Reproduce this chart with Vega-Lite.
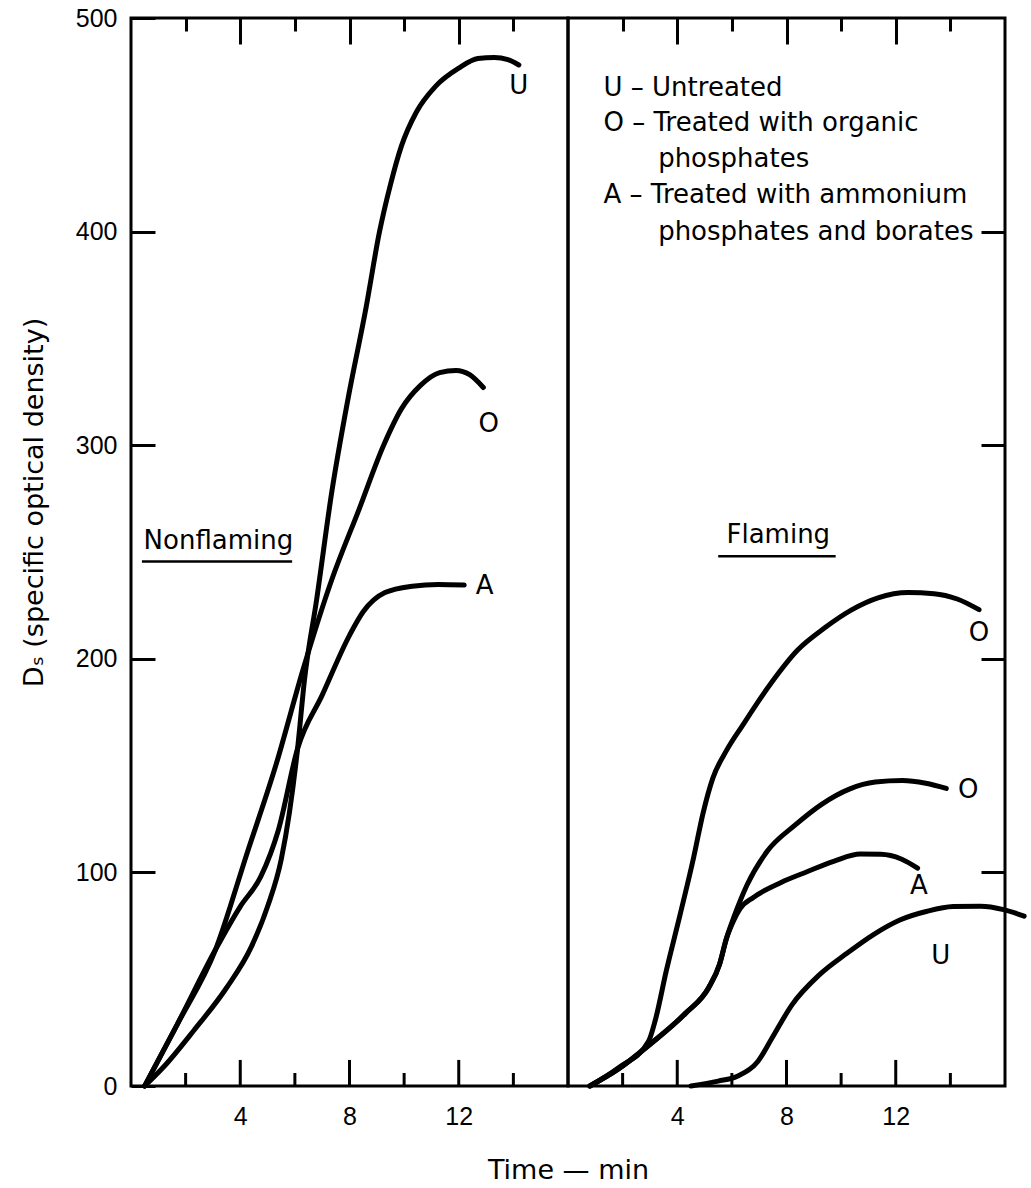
{
  "$schema": "https://vega.github.io/schema/vega-lite/v6.json",
  "padding": {"left": 18, "top": 4, "right": 5, "bottom": 5},
  "background": "white",
  "bounds": "flush",
  "spacing": 0,
  "config": {
    "view": {"stroke": "black", "strokeWidth": 3},
    "axis": {"domain": false, "grid": false, "tickColor": "black", "tickWidth": 3, "labelColor": "black", "labelFont": "Liberation Sans", "labelFontSize": 25, "labelFlush": false, "titleFont": "DejaVu Sans", "titleFontSize": 27, "titleFontWeight": "normal", "titleColor": "black"},
    "concat": {"spacing": 0}
  },
  "datasets": {
    "curves": [
      {"panel": "Nonflaming", "series": "U", "t": 0.5, "v": 0},
      {"panel": "Nonflaming", "series": "U", "t": 1.2, "v": 9},
      {"panel": "Nonflaming", "series": "U", "t": 2.3, "v": 26},
      {"panel": "Nonflaming", "series": "U", "t": 3.5, "v": 46},
      {"panel": "Nonflaming", "series": "U", "t": 4.4, "v": 65},
      {"panel": "Nonflaming", "series": "U", "t": 5.0, "v": 84},
      {"panel": "Nonflaming", "series": "U", "t": 5.5, "v": 106},
      {"panel": "Nonflaming", "series": "U", "t": 5.8, "v": 128},
      {"panel": "Nonflaming", "series": "U", "t": 6.1, "v": 158},
      {"panel": "Nonflaming", "series": "U", "t": 6.35, "v": 190},
      {"panel": "Nonflaming", "series": "U", "t": 6.8, "v": 228},
      {"panel": "Nonflaming", "series": "U", "t": 7.35, "v": 278},
      {"panel": "Nonflaming", "series": "U", "t": 7.95, "v": 322},
      {"panel": "Nonflaming", "series": "U", "t": 8.6, "v": 364},
      {"panel": "Nonflaming", "series": "U", "t": 9.1, "v": 400},
      {"panel": "Nonflaming", "series": "U", "t": 9.5, "v": 422},
      {"panel": "Nonflaming", "series": "U", "t": 9.9, "v": 440},
      {"panel": "Nonflaming", "series": "U", "t": 10.45, "v": 456},
      {"panel": "Nonflaming", "series": "U", "t": 11.15, "v": 468},
      {"panel": "Nonflaming", "series": "U", "t": 12.0, "v": 476.5},
      {"panel": "Nonflaming", "series": "U", "t": 12.7, "v": 481},
      {"panel": "Nonflaming", "series": "U", "t": 13.3, "v": 481.5},
      {"panel": "Nonflaming", "series": "U", "t": 13.8, "v": 480.5},
      {"panel": "Nonflaming", "series": "U", "t": 14.2, "v": 478},
      {"panel": "Nonflaming", "series": "O", "t": 0.5, "v": 0},
      {"panel": "Nonflaming", "series": "O", "t": 1.7, "v": 29},
      {"panel": "Nonflaming", "series": "O", "t": 3.1, "v": 64},
      {"panel": "Nonflaming", "series": "O", "t": 4.25, "v": 109},
      {"panel": "Nonflaming", "series": "O", "t": 5.3, "v": 150},
      {"panel": "Nonflaming", "series": "O", "t": 6.3, "v": 195},
      {"panel": "Nonflaming", "series": "O", "t": 7.35, "v": 237},
      {"panel": "Nonflaming", "series": "O", "t": 8.35, "v": 270},
      {"panel": "Nonflaming", "series": "O", "t": 9.25, "v": 300},
      {"panel": "Nonflaming", "series": "O", "t": 9.9, "v": 317},
      {"panel": "Nonflaming", "series": "O", "t": 10.6, "v": 328},
      {"panel": "Nonflaming", "series": "O", "t": 11.3, "v": 334},
      {"panel": "Nonflaming", "series": "O", "t": 11.9, "v": 335},
      {"panel": "Nonflaming", "series": "O", "t": 12.4, "v": 333},
      {"panel": "Nonflaming", "series": "O", "t": 12.9, "v": 327},
      {"panel": "Nonflaming", "series": "A", "t": 0.5, "v": 0},
      {"panel": "Nonflaming", "series": "A", "t": 1.7, "v": 29},
      {"panel": "Nonflaming", "series": "A", "t": 3.1, "v": 64},
      {"panel": "Nonflaming", "series": "A", "t": 4.0, "v": 84},
      {"panel": "Nonflaming", "series": "A", "t": 4.75, "v": 98},
      {"panel": "Nonflaming", "series": "A", "t": 5.4, "v": 120},
      {"panel": "Nonflaming", "series": "A", "t": 6.1, "v": 158},
      {"panel": "Nonflaming", "series": "A", "t": 7.0, "v": 183},
      {"panel": "Nonflaming", "series": "A", "t": 8.0, "v": 211},
      {"panel": "Nonflaming", "series": "A", "t": 8.5, "v": 222},
      {"panel": "Nonflaming", "series": "A", "t": 9.3, "v": 231},
      {"panel": "Nonflaming", "series": "A", "t": 10.3, "v": 234},
      {"panel": "Nonflaming", "series": "A", "t": 11.25, "v": 234.8},
      {"panel": "Nonflaming", "series": "A", "t": 12.2, "v": 234.5},
      {"panel": "Flaming", "series": "O1", "t": 0.8, "v": 0},
      {"panel": "Flaming", "series": "O1", "t": 1.85, "v": 8.5},
      {"panel": "Flaming", "series": "O1", "t": 2.95, "v": 21},
      {"panel": "Flaming", "series": "O1", "t": 3.2, "v": 31},
      {"panel": "Flaming", "series": "O1", "t": 3.6, "v": 54},
      {"panel": "Flaming", "series": "O1", "t": 4.1, "v": 80},
      {"panel": "Flaming", "series": "O1", "t": 4.6, "v": 107},
      {"panel": "Flaming", "series": "O1", "t": 4.95, "v": 128},
      {"panel": "Flaming", "series": "O1", "t": 5.3, "v": 144},
      {"panel": "Flaming", "series": "O1", "t": 5.8, "v": 157},
      {"panel": "Flaming", "series": "O1", "t": 6.4, "v": 169},
      {"panel": "Flaming", "series": "O1", "t": 7.4, "v": 188},
      {"panel": "Flaming", "series": "O1", "t": 8.4, "v": 204},
      {"panel": "Flaming", "series": "O1", "t": 9.4, "v": 214.5},
      {"panel": "Flaming", "series": "O1", "t": 10.4, "v": 223},
      {"panel": "Flaming", "series": "O1", "t": 11.35, "v": 228.5},
      {"panel": "Flaming", "series": "O1", "t": 12.45, "v": 231},
      {"panel": "Flaming", "series": "O1", "t": 13.4, "v": 230.5},
      {"panel": "Flaming", "series": "O1", "t": 14.25, "v": 228},
      {"panel": "Flaming", "series": "O1", "t": 15.05, "v": 223},
      {"panel": "Flaming", "series": "O2", "t": 0.8, "v": 0},
      {"panel": "Flaming", "series": "O2", "t": 1.85, "v": 8},
      {"panel": "Flaming", "series": "O2", "t": 3.05, "v": 20},
      {"panel": "Flaming", "series": "O2", "t": 4.3, "v": 34},
      {"panel": "Flaming", "series": "O2", "t": 5.15, "v": 46},
      {"panel": "Flaming", "series": "O2", "t": 5.55, "v": 57},
      {"panel": "Flaming", "series": "O2", "t": 5.8, "v": 69},
      {"panel": "Flaming", "series": "O2", "t": 6.1, "v": 80},
      {"panel": "Flaming", "series": "O2", "t": 6.55, "v": 94},
      {"panel": "Flaming", "series": "O2", "t": 7.3, "v": 110},
      {"panel": "Flaming", "series": "O2", "t": 8.3, "v": 122},
      {"panel": "Flaming", "series": "O2", "t": 9.3, "v": 132},
      {"panel": "Flaming", "series": "O2", "t": 10.3, "v": 139},
      {"panel": "Flaming", "series": "O2", "t": 11.25, "v": 142.3},
      {"panel": "Flaming", "series": "O2", "t": 12.25, "v": 143},
      {"panel": "Flaming", "series": "O2", "t": 13.1, "v": 141.7},
      {"panel": "Flaming", "series": "O2", "t": 13.85, "v": 139.3},
      {"panel": "Flaming", "series": "A", "t": 0.8, "v": 0},
      {"panel": "Flaming", "series": "A", "t": 1.85, "v": 8},
      {"panel": "Flaming", "series": "A", "t": 3.05, "v": 20},
      {"panel": "Flaming", "series": "A", "t": 4.3, "v": 34},
      {"panel": "Flaming", "series": "A", "t": 5.15, "v": 46},
      {"panel": "Flaming", "series": "A", "t": 5.55, "v": 57},
      {"panel": "Flaming", "series": "A", "t": 5.8, "v": 69},
      {"panel": "Flaming", "series": "A", "t": 6.05, "v": 77},
      {"panel": "Flaming", "series": "A", "t": 6.3, "v": 83},
      {"panel": "Flaming", "series": "A", "t": 6.8, "v": 88.4},
      {"panel": "Flaming", "series": "A", "t": 7.8, "v": 95.3},
      {"panel": "Flaming", "series": "A", "t": 8.75, "v": 100.3},
      {"panel": "Flaming", "series": "A", "t": 9.75, "v": 105.3},
      {"panel": "Flaming", "series": "A", "t": 10.7, "v": 108.6},
      {"panel": "Flaming", "series": "A", "t": 11.45, "v": 108.5},
      {"panel": "Flaming", "series": "A", "t": 12.2, "v": 106.3},
      {"panel": "Flaming", "series": "A", "t": 12.8, "v": 102},
      {"panel": "Flaming", "series": "U", "t": 4.5, "v": 0},
      {"panel": "Flaming", "series": "U", "t": 5.5, "v": 2.3},
      {"panel": "Flaming", "series": "U", "t": 6.2, "v": 4.6},
      {"panel": "Flaming", "series": "U", "t": 6.95, "v": 11.5},
      {"panel": "Flaming", "series": "U", "t": 7.45, "v": 22},
      {"panel": "Flaming", "series": "U", "t": 8.2, "v": 38},
      {"panel": "Flaming", "series": "U", "t": 9.2, "v": 52},
      {"panel": "Flaming", "series": "U", "t": 10.2, "v": 62},
      {"panel": "Flaming", "series": "U", "t": 11.2, "v": 71},
      {"panel": "Flaming", "series": "U", "t": 12.15, "v": 77.7},
      {"panel": "Flaming", "series": "U", "t": 13.15, "v": 81.8},
      {"panel": "Flaming", "series": "U", "t": 14.1, "v": 84},
      {"panel": "Flaming", "series": "U", "t": 15.1, "v": 84.2},
      {"panel": "Flaming", "series": "U", "t": 15.95, "v": 82.6},
      {"panel": "Flaming", "series": "U", "t": 16.7, "v": 79.5}
    ],
    "labels": [
      {"panel": "Nonflaming", "text": "U", "t": 14.2, "v": 468},
      {"panel": "Nonflaming", "text": "O", "t": 13.1, "v": 310},
      {"panel": "Nonflaming", "text": "A", "t": 12.95, "v": 234},
      {"panel": "Nonflaming", "text": "Nonflaming", "t": 3.2, "v": 255},
      {"panel": "Flaming", "text": "O", "t": 15.05, "v": 212},
      {"panel": "Flaming", "text": "O", "t": 14.65, "v": 138.5},
      {"panel": "Flaming", "text": "A", "t": 12.85, "v": 93.5},
      {"panel": "Flaming", "text": "U", "t": 13.65, "v": 61},
      {"panel": "Flaming", "text": "Flaming", "t": 7.7, "v": 258}
    ],
    "legend": [
      {"text": "U – Untreated", "t": 1.3, "v": 467},
      {"text": "O – Treated with organic", "t": 1.3, "v": 451},
      {"text": "phosphates", "t": 3.3, "v": 434},
      {"text": "A – Treated with ammonium", "t": 1.3, "v": 417},
      {"text": "phosphates and borates", "t": 3.3, "v": 400}
    ],
    "underlines": [
      {"panel": "Nonflaming", "t": 0.4, "t2": 5.9, "v": 245.5},
      {"panel": "Flaming", "t": 5.5, "t2": 9.8, "v": 248}
    ],
    "bottomticks": [
      {"t": 2, "len": 6.1},
      {"t": 4, "len": 12.2},
      {"t": 6, "len": 6.1},
      {"t": 8, "len": 12.2},
      {"t": 10, "len": 6.1},
      {"t": 12, "len": 12.2},
      {"t": 14, "len": 6.1}
    ]
  },
  "hconcat": [
    {
      "width": 437,
      "height": 1068,
      "layer": [
        {
          "data": {"name": "curves"},
          "transform": [{"filter": "datum.panel === 'Nonflaming'"}],
          "mark": {"type": "line", "interpolate": "monotone", "stroke": "black", "strokeWidth": 5, "strokeCap": "round", "clip": false},
          "encoding": {
            "x": {"field": "t", "type": "quantitative", "scale": {"domain": [0.18307, 15.81693], "nice": false, "zero": false},
              "axis": {"orient": "bottom", "values": [0, 4, 8, 12], "ticks": false,
                "labelPadding": 18, "labelBaseline": "top",
                "title": "Time — min", "titleX": 437, "titleY": 84, "titleAlign": "center", "titleBaseline": "middle"}},
            "y": {"field": "v", "type": "quantitative", "scale": {"domain": [0, 500], "nice": false},
              "axis": {"orient": "left", "values": [0, 100, 200, 300, 400, 500], "tickSize": -24, "labelPadding": 38,
                "title": "Dₛ (specific optical density)", "titleX": -97, "titleY": 484, "titleAlign": "center", "titleBaseline": "middle", "titleAngle": -90}},
            "detail": {"field": "series"}
          }
        },
        {
          "data": {"name": "labels"},
          "transform": [{"filter": "datum.panel === 'Nonflaming'"}],
          "mark": {"type": "text", "font": "DejaVu Sans", "fontSize": 26, "align": "center", "baseline": "middle", "color": "black"},
          "encoding": {
            "x": {"field": "t", "type": "quantitative", "scale": {"domain": [0.18307, 15.81693], "nice": false, "zero": false},
              "axis": {"orient": "top", "values": [2, 4, 6, 8, 10, 12, 14],
                "tickSize": {"condition": {"test": "datum.value % 4 === 0", "value": -26}, "value": -13},
                "labels": false, "title": null}},
            "y": {"field": "v", "type": "quantitative", "scale": {"domain": [0, 500], "nice": false}, "axis": null},
            "text": {"field": "text"}
          }
        },
        {
          "data": {"name": "underlines"},
          "transform": [{"filter": "datum.panel === 'Nonflaming'"}],
          "mark": {"type": "rule", "color": "black", "strokeWidth": 2.5},
          "encoding": {
            "x": {"field": "t", "type": "quantitative", "axis": null},
            "x2": {"field": "t2"},
            "y": {"field": "v", "type": "quantitative", "axis": null}
          }
        },
        {
          "data": {"name": "bottomticks"},
          "mark": {"type": "bar", "color": "black", "width": 3},
          "encoding": {
            "x": {"field": "t", "type": "quantitative", "axis": null},
            "y": {"field": "len", "type": "quantitative", "axis": null}
          }
        }
      ],
      "resolve": {"axis": {"x": "independent", "y": "independent"}}
    },
    {
      "width": 437,
      "height": 1068,
      "layer": [
        {
          "data": {"name": "curves"},
          "transform": [{"filter": "datum.panel === 'Flaming'"}],
          "mark": {"type": "line", "interpolate": "monotone", "stroke": "black", "strokeWidth": 5, "strokeCap": "round", "clip": false},
          "encoding": {
            "x": {"field": "t", "type": "quantitative", "scale": {"domain": [0.18307, 15.81693], "nice": false, "zero": false},
              "axis": {"orient": "bottom", "values": [0, 4, 8, 12, 16], "ticks": false,
                "labelPadding": 18, "labelBaseline": "top", "title": null}},
            "y": {"field": "v", "type": "quantitative", "scale": {"domain": [0, 500], "nice": false}, "axis": null},
            "detail": {"field": "series"}
          }
        },
        {
          "data": {"name": "labels"},
          "transform": [{"filter": "datum.panel === 'Flaming'"}],
          "mark": {"type": "text", "font": "DejaVu Sans", "fontSize": 26, "align": "center", "baseline": "middle", "color": "black"},
          "encoding": {
            "x": {"field": "t", "type": "quantitative", "scale": {"domain": [0.18307, 15.81693], "nice": false, "zero": false},
              "axis": {"orient": "top", "values": [2, 4, 6, 8, 10, 12, 14],
                "tickSize": {"condition": {"test": "datum.value % 4 === 0", "value": -26}, "value": -13},
                "labels": false, "title": null}},
            "y": {"field": "v", "type": "quantitative", "scale": {"domain": [0, 500], "nice": false},
              "axis": {"orient": "right", "values": [100, 200, 300, 400], "tickSize": -24, "labels": false, "title": null}},
            "text": {"field": "text"}
          }
        },
        {
          "data": {"name": "legend"},
          "mark": {"type": "text", "font": "DejaVu Sans", "fontSize": 26, "align": "left", "baseline": "middle", "color": "black"},
          "encoding": {
            "x": {"field": "t", "type": "quantitative", "axis": null},
            "y": {"field": "v", "type": "quantitative", "axis": null},
            "text": {"field": "text"}
          }
        },
        {
          "data": {"name": "underlines"},
          "transform": [{"filter": "datum.panel === 'Flaming'"}],
          "mark": {"type": "rule", "color": "black", "strokeWidth": 2.5},
          "encoding": {
            "x": {"field": "t", "type": "quantitative", "axis": null},
            "x2": {"field": "t2"},
            "y": {"field": "v", "type": "quantitative", "axis": null}
          }
        },
        {
          "data": {"name": "bottomticks"},
          "mark": {"type": "bar", "color": "black", "width": 3},
          "encoding": {
            "x": {"field": "t", "type": "quantitative", "axis": null},
            "y": {"field": "len", "type": "quantitative", "axis": null}
          }
        }
      ],
      "resolve": {"axis": {"x": "independent", "y": "independent"}}
    }
  ]
}
